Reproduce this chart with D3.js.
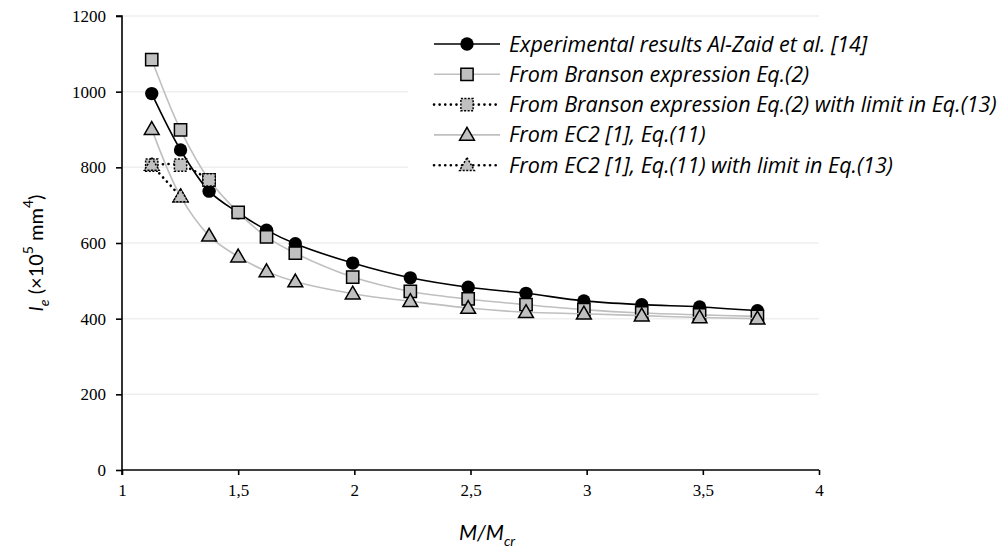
<!DOCTYPE html>
<html>
<head>
<meta charset="utf-8">
<script src="https://cdn.jsdelivr.net/npm/d3@7.9.0/dist/d3.min.js"></script>
<style>
  body { margin: 0; background: #fff; }
  svg { display: block; }
</style>
</head>
<body>
<svg id="chart"></svg>
<script>
// M/Mcr values shared by all series
const ratio = [1.128, 1.252, 1.375, 1.5, 1.622, 1.746, 1.993, 2.241, 2.49, 2.739, 2.988, 3.237, 3.486, 3.735];

// Ie values (x10^5 mm^4)
const experimental = [995, 846, 737, 680, 634, 598, 547, 508, 483, 467, 447, 437, 431, 421];
const branson      = [1085, 899, 767, 681, 616, 573, 510, 472, 452, 437, 424, 415, 410, 406];
const bransonLimit = [806, 806, 767];
const ec2          = [901, 723, 619, 564, 525, 498, 466, 446, 428, 417, 413, 408, 403, 400];
const ec2Limit     = [806, 723];

const xTicks = [1, 1.5, 2, 2.5, 3, 3.5, 4];
const yTicks = [0, 200, 400, 600, 800, 1000, 1200];

const legendLabels = [
  'Experimental results Al-Zaid et al. [14]',
  'From Branson expression Eq.(2)',
  'From Branson expression Eq.(2) with limit in Eq.(13)',
  'From EC2 [1], Eq.(11)',
  'From EC2 [1], Eq.(11) with limit in Eq.(13)'
];

const width = 1008;
const height = 556;
const plot = { left: 122, right: 819, top: 16, bottom: 470 };

const svg = d3.select('#chart').attr('width', width).attr('height', height);

const x = d3.scaleLinear().domain([1, 4]).range([plot.left, plot.right]);
const y = d3.scaleLinear().domain([0, 1200]).range([plot.bottom, plot.top]);

// gridlines
svg.append('g')
  .selectAll('line')
  .data(yTicks.filter(d => d > 0))
  .join('line')
  .attr('x1', plot.left).attr('x2', plot.right)
  .attr('y1', d => y(d)).attr('y2', d => y(d))
  .attr('stroke', '#efefef')
  .attr('stroke-width', 1.5);

// series styles (values come from the arrays above)
const series = [
  { name: 'exp', values: experimental, line: '#000', lw: 1.6, dash: null, marker: 'circle', fill: '#000', mdash: null },
  { name: 'bra', values: branson, line: '#bfbfbf', lw: 1.6, dash: null, marker: 'square', fill: '#c0c0c0', mdash: null },
  { name: 'braL', values: bransonLimit, line: '#000', lw: 2.6, dash: '0.1 5.5', marker: 'square', fill: '#c0c0c0', mdash: '2 1.5' },
  { name: 'ec2', values: ec2, line: '#bfbfbf', lw: 1.6, dash: null, marker: 'triangle', fill: '#c0c0c0', mdash: null },
  { name: 'ec2L', values: ec2Limit, line: '#000', lw: 2.6, dash: '0.1 5.5', marker: 'triangle', fill: '#c0c0c0', mdash: '2 1.5' }
];

const symbolPath = {
  circle: d3.symbol(d3.symbolCircle, 140)(),
  square: d3.symbol(d3.symbolSquare, 150)(),
  triangle: d3.symbol(d3.symbolTriangle, 95)()
};

const lineGen = d3.line()
  .x(d => x(d[0]))
  .y(d => y(d[1]))
  .curve(d3.curveCatmullRom.alpha(0.5));

function drawMarker(g, s, px, py) {
  const m = g.append('path')
    .attr('d', symbolPath[s.marker])
    .attr('transform', `translate(${px},${py + (s.marker === 'triangle' ? 1 : 0)})`)
    .attr('fill', s.fill)
    .attr('stroke', '#000')
    .attr('stroke-width', s.marker === 'circle' ? 0 : 1.5);
  if (s.mdash) m.attr('stroke-dasharray', s.mdash);
}

series.forEach(s => {
  const pts = s.values.map((v, i) => [ratio[i], v]);
  const g = svg.append('g').attr('class', s.name);
  g.append('path')
    .datum(pts)
    .attr('d', lineGen)
    .attr('fill', 'none')
    .attr('stroke', s.line)
    .attr('stroke-width', s.lw)
    .attr('stroke-linecap', s.dash ? 'round' : 'butt')
    .attr('stroke-dasharray', s.dash);
  pts.forEach(p => drawMarker(g, s, x(p[0]), y(p[1])));
});

// axes
const serif = '"Liberation Serif", "Times New Roman", serif';

const yAxis = svg.append('g')
  .attr('transform', `translate(${plot.left},0)`)
  .call(d3.axisLeft(y).tickValues(yTicks).tickSize(6).tickPadding(10).tickFormat(d3.format('d')));
const xAxis = svg.append('g')
  .attr('transform', `translate(0,${plot.bottom})`)
  .call(d3.axisBottom(x).tickValues(xTicks).tickSize(5).tickPadding(9)
    .tickFormat(d => String(d).replace('.', ',')));

[yAxis, xAxis].forEach(a => {
  a.select('.domain').attr('stroke', '#000').attr('stroke-width', 1.6);
  a.selectAll('.tick line').attr('stroke', '#000').attr('stroke-width', 1.6);
  a.selectAll('.tick text').attr('fill', '#000').style('font-family', serif).style('font-size', '17px');
});
yAxis.select('.domain').attr('d', `M-6,${plot.top}H0V${plot.bottom + 5}`);
xAxis.select('.domain').attr('d', `M${plot.left},0H${plot.right}`);

// axis titles
const sans = 'Lato, "Open Sans", sans-serif';
const yTitle = svg.append('text')
  .attr('transform', `translate(43,${(plot.top + plot.bottom) / 2 + 10}) rotate(-90)`)
  .attr('text-anchor', 'middle')
  .style('font-family', sans)
  .style('font-size', '20px')
  .attr('fill', '#000');
yTitle.append('tspan').style('font-style', 'italic').text('I');
yTitle.append('tspan').style('font-style', 'italic').style('font-size', '14px').attr('dy', 6).text('e');
yTitle.append('tspan').attr('dy', -6).text(' (×10');
yTitle.append('tspan').style('font-size', '14px').attr('dy', -10).text('5');
yTitle.append('tspan').attr('dy', 10).text(' mm');
yTitle.append('tspan').style('font-size', '14px').attr('dy', -10).text('4');
yTitle.append('tspan').attr('dy', 10).text(')');

const xTitle = svg.append('text')
  .attr('x', 487)
  .attr('y', 540)
  .attr('text-anchor', 'middle')
  .style('font-family', sans)
  .style('font-size', '21px')
  .style('font-style', 'italic')
  .attr('fill', '#000');
xTitle.append('tspan').text('M/M');
xTitle.append('tspan').style('font-size', '14px').attr('dy', 6).text('cr');

// legend
const legend = svg.append('g').attr('transform', 'translate(408,26)');
legend.append('rect').attr('width', 600).attr('height', 158).attr('fill', '#fff');
legendLabels.forEach((label, i) => {
  const s = series[i];
  const ly = 18 + i * 30.3;
  const row = legend.append('g');
  row.append('line')
    .attr('x1', 26).attr('x2', 92)
    .attr('y1', ly).attr('y2', ly)
    .attr('stroke', s.line)
    .attr('stroke-width', s.lw)
    .attr('stroke-linecap', s.dash ? 'round' : 'butt')
    .attr('stroke-dasharray', s.dash);
  drawMarker(row, s, 59, ly);
  row.append('text')
    .attr('x', 101).attr('y', ly + 7.5)
    .style('font-family', '"Open Sans", sans-serif')
    .style('font-size', '21.5px')
    .style('font-style', 'italic')
    .attr('fill', '#000')
    .text(label);
});
</script>
</body>
</html>
